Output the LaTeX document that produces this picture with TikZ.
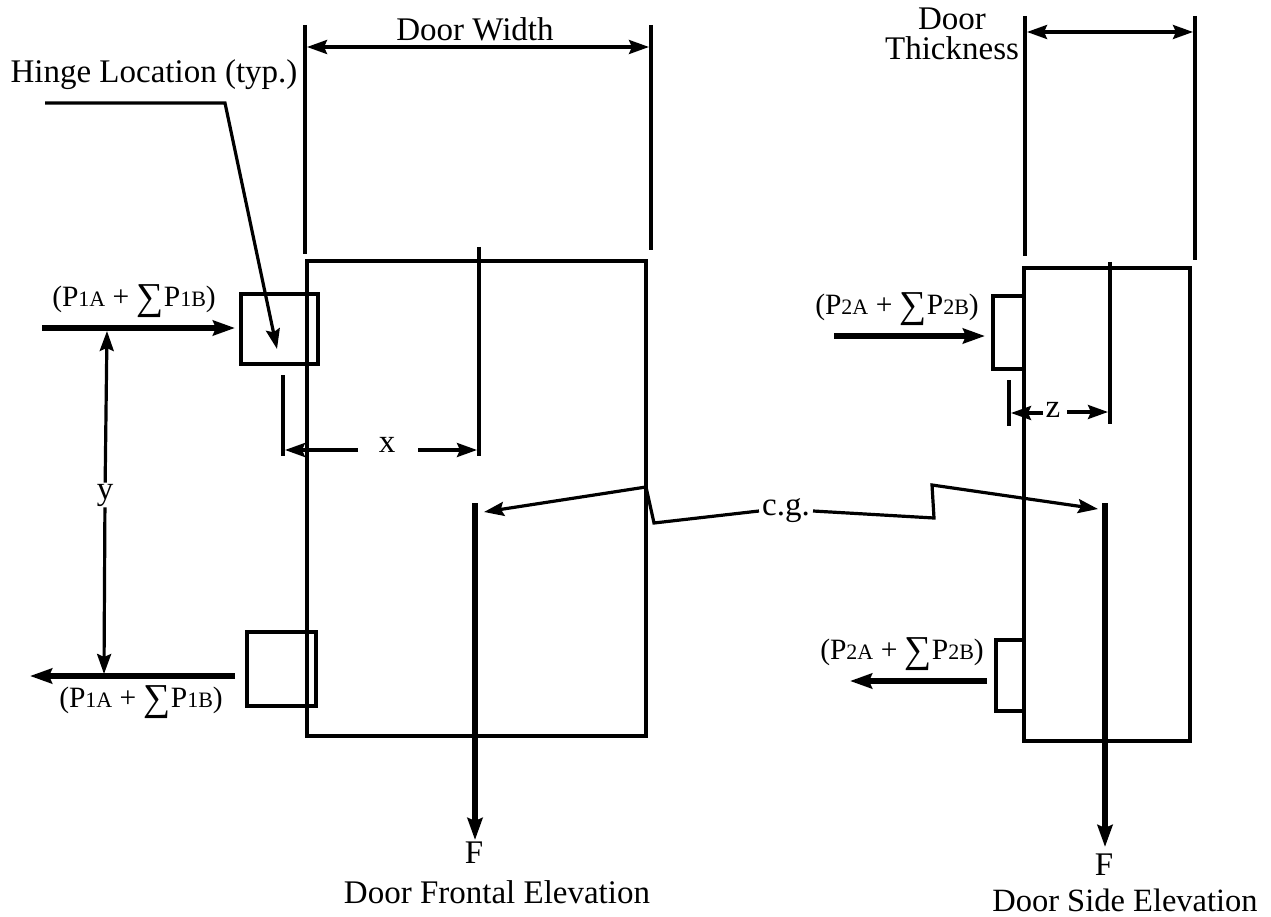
\documentclass[tikz,border=0pt]{standalone}
\usepackage{fontspec}
\setmainfont{Liberation Serif}
\usetikzlibrary{arrows.meta}
\newcommand{\plabel}[2]{(P{\fontsize{22}{22}\selectfont #1} + \raisebox{-3pt}{\fontsize{38}{38}\selectfont ∑}P{\fontsize{22}{22}\selectfont #2})}
\tikzset{
 ln/.style={line width=3.4pt},
 dim/.style={line width=3.2pt,{Stealth[length=20pt,width=14pt,inset=3pt]}-{Stealth[length=20pt,width=14pt,inset=3pt]}},
 arr/.style={line width=3.2pt,line join=miter,-{Stealth[length=20pt,width=14pt,inset=3pt]}},
 force/.style={line width=6.5pt,-{Stealth[length=22pt,width=15pt,inset=3pt]}},
 lab/.style={font=\fontsize{33}{30}\selectfont,inner sep=1pt,align=center},
 plab/.style={font=\fontsize{29.5}{30}\selectfont,inner sep=1pt}
}
\begin{document}
\begin{tikzpicture}[x=1pt,y=-1pt]
\useasboundingbox (0,0) rectangle (1271,917);
\fill[white] (0,0) rectangle (1271,917);
% doors
\coordinate (fa) at (307,261); \coordinate (fb) at (646,736);
\draw[ln] (fa) rectangle (fb);
\coordinate (sa) at (1024,268); \coordinate (sb) at (1190,741);
\draw[ln] (sa) rectangle (sb);
% hinges
\draw[ln] (241,294) rectangle (318,364);
\draw[ln] (247,632) rectangle (316,706);
\draw[ln] (1024,296) -- (993,296) -- (993,369) -- (1024,369);
\draw[ln] (1024,640) -- (996,640) -- (996,711) -- (1024,711);
% extension lines
\coordinate (w1t) at (305,25); \coordinate (w1b) at (305,254);
\coordinate (w2t) at (651,25); \coordinate (w2b) at (651,250);
\draw[ln] (w1t)--(w1b); \draw[ln] (w2t)--(w2b);
\coordinate (t1t) at (1025,16); \coordinate (t1b) at (1025,256);
\coordinate (t2t) at (1195,16); \coordinate (t2b) at (1195,260);
\draw[ln] (t1t)--(t1b); \draw[ln] (t2t)--(t2b);
\coordinate (wl) at (307,47); \coordinate (wr) at (649,47);
\draw[dim] (wl)--(wr);
\coordinate (tl) at (1027,32); \coordinate (tr) at (1193,32);
\draw[dim] (tl)--(tr);
% labels
\node[lab] (dw) at (475,29) {Door Width};
\node[lab] (dt) at (952,34) {Door\\Thickness};
\node[lab] (hl) at (154,75) {Hinge Location (typ.)};
\node[plab] (p1) at (134,301) {\plabel{1A}{1B}};
\node[plab] (p2) at (141,702) {\plabel{1A}{1B}};
\node[plab] (p3) at (897,309) {\plabel{2A}{2B}};
\node[plab] (p4) at (902,654) {\plabel{2A}{2B}};
\node[lab] (y) at (105,495) {y};
\node[lab] (x) at (387,445) {x};
\node[lab] (z) at (1053,410) {z};
\node[lab,inner sep=3pt] (cg) at (786,511) {c.g.};
\node[lab] (f1) at (474,853) {F};
\node[lab] (f2) at (1104,865) {F};
\node[lab] (t1) at (497,892) {Door Frontal Elevation};
\node[lab,font=\fontsize{32.5}{30}\selectfont] (t2) at (1125,900) {Door Side Elevation};
% hinge leader
\coordinate (h0) at (45,103); \coordinate (h1) at (225,103); \coordinate (h2) at (277,349);
\draw[arr] (h0)--(h1)--(h2);
% forces
\coordinate (fl1) at (42,328); \coordinate (fl2) at (235,328);
\draw[force] (fl1)--(fl2);
\coordinate (fl3) at (235,676); \coordinate (fl4) at (30,676);
\draw[force] (fl3)--(fl4);
\coordinate (fr1) at (834,336); \coordinate (fr2) at (985,336);
\draw[force] (fr1)--(fr2);
\coordinate (fr3) at (987,681); \coordinate (fr4) at (850,681);
\draw[force] (fr3)--(fr4);
% y dim
\coordinate (ya) at (107,331); \coordinate (yb) at (104,674);
\draw[arr] (y)--(ya);
\draw[arr] (y)--(yb);
% x dim
\draw[ln] (283,375)--(283,456);
\draw[ln] (479,247)--(479,456);
\coordinate (xa) at (285,450); \coordinate (xb) at (477,450);
\coordinate (xg1) at (358,450); \coordinate (xg2) at (418,450);
\draw[arr] (xg1)--(xa);
\draw[arr] (xg2)--(xb);
% z dim
\draw[ln] (1009,380)--(1009,426);
\draw[ln] (1110,262)--(1110,424);
\coordinate (za) at (1011,413); \coordinate (zb) at (1108,412);
\coordinate (zg1) at (1043,413); \coordinate (zg2) at (1067,412);
\draw[arr] (zg1)--(za);
\draw[arr] (zg2)--(zb);
% F arrows
\coordinate (ff1) at (475,503); \coordinate (ff2) at (475,840);
\draw[force] (ff1)--(ff2);
\coordinate (ff3) at (1105,503); \coordinate (ff4) at (1105,847);
\draw[force] (ff3)--(ff4);
% c.g. leaders
\coordinate (c1) at (654,523); \coordinate (c2) at (646,487); \coordinate (c3) at (484,512);
\draw[arr] (cg.west)--(c1)--(c2)--(c3);
\coordinate (c4) at (934,518); \coordinate (c5) at (932,485); \coordinate (c6) at (1098,509);
\draw[arr] (cg.east)--(c4)--(c5)--(c6);
\end{tikzpicture}
\end{document}
